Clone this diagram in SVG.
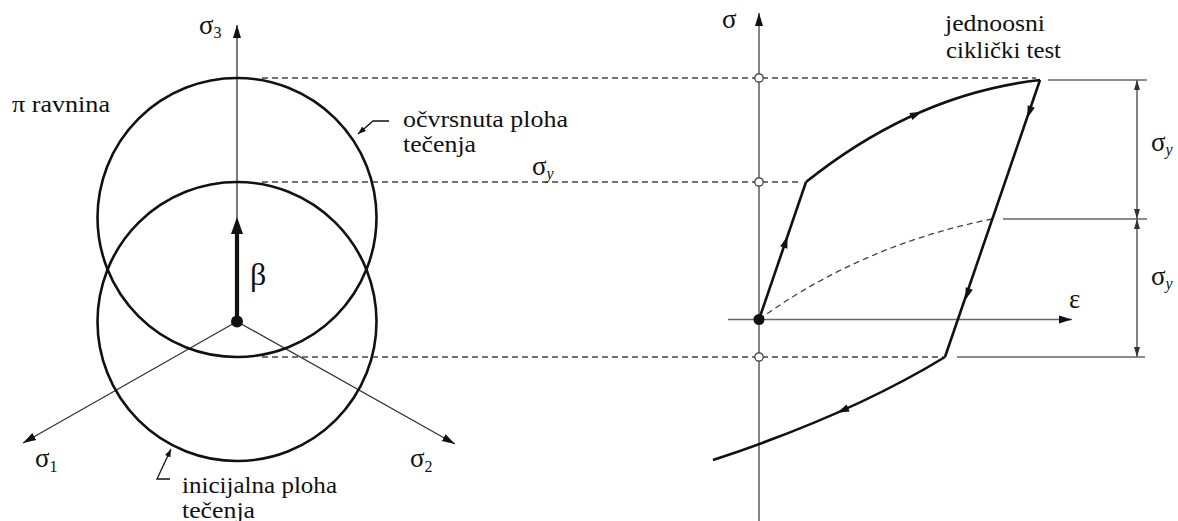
<svg xmlns="http://www.w3.org/2000/svg" xmlns:xlink="http://www.w3.org/1999/xlink" width="1178" height="521" viewBox="0 0 1178 521" font-family="Liberation Serif, Times New Roman, DejaVu Serif, serif">
<style>
.t{font-size:24px;fill:#111}
.g{font-size:27px;fill:#111}
.b{font-size:32px;fill:#111}
.sub{font-size:16px}
.subi{font-size:16px;font-style:italic}
.circ{fill:none;stroke:#111;stroke-width:2.6}
.ax{fill:none;stroke:#333;stroke-width:1.3}
.axr{fill:none;stroke:#666;stroke-width:1.6}
.dash{fill:none;stroke:#444;stroke-width:1.3;stroke-dasharray:6 4}
.curve{fill:none;stroke:#111;stroke-width:2.6}
.dim{fill:none;stroke:#666;stroke-width:1.6}
.open{fill:#fff;stroke:#333;stroke-width:1.2}
</style>
<defs>
<marker id="axArrow" markerUnits="userSpaceOnUse" markerWidth="14" markerHeight="10" refX="13" refY="5" orient="auto-start-reverse">
<path d="M0,1 L13,5 L0,9 Z" fill="#111"/>
</marker>
<marker id="dimArrow" markerUnits="userSpaceOnUse" markerWidth="11" markerHeight="8" refX="10" refY="4" orient="auto-start-reverse">
<path d="M0,1 L10,4 L0,7 Z" fill="#333"/>
</marker>
<marker id="leadArrow" markerUnits="userSpaceOnUse" markerWidth="9" markerHeight="7" refX="8" refY="3.5" orient="auto">
<path d="M0,0.5 L8,3.5 L0,6.5 Z" fill="#111"/>
</marker>
<path id="ah" d="M2,0 L-10,-3.8 L-10,3.8 Z" fill="#111"/>
</defs>

<g id="connectors">
<line class="dash" x1="262" y1="78" x2="1036" y2="78"/>
<line class="dash" x1="262" y1="182" x2="802" y2="182"/>
<line class="dash" x1="262" y1="357" x2="943" y2="357"/>
</g>

<g id="left-diagram">
<g id="pi-plane-axes">
<line class="ax" x1="237" y1="321.5" x2="237" y2="25" marker-end="url(#axArrow)"/>
<line class="ax" x1="237" y1="321.5" x2="23" y2="443" marker-end="url(#axArrow)"/>
<line class="ax" x1="237" y1="321.5" x2="455" y2="444" marker-end="url(#axArrow)"/>
</g>
<g id="hardened-surface">
<circle class="circ" cx="237" cy="217.5" r="139.5"/>
</g>
<g id="initial-surface">
<circle class="circ" cx="237" cy="321.5" r="139.5"/>
</g>
<g id="beta-arrow">
<line x1="237" y1="321.5" x2="237" y2="232" stroke="#111" stroke-width="4.2"/>
<path d="M237,217 L231,234 L243,234 Z" fill="#111"/>
<circle cx="237" cy="321.5" r="6" fill="#111"/>
<text class="b" x="250" y="285">β</text>
</g>
<g id="labels-left">
<text class="g" x="199" y="34">σ<tspan class="sub" dy="4">3</tspan></text>
<text class="g" x="35" y="467">σ<tspan class="sub" dy="5">1</tspan></text>
<text class="g" x="410" y="467">σ<tspan class="sub" dy="5">2</tspan></text>
<text class="t" x="12" y="112" textLength="98" lengthAdjust="spacingAndGlyphs">π ravnina</text>
<text class="g" x="532" y="175">σ<tspan class="subi" dy="4">y</tspan></text>
</g>
<g id="label-hardened">
<polyline fill="none" stroke="#111" stroke-width="1.3" points="389,121 373,121 358,134" marker-end="url(#leadArrow)"/>
<text class="t" x="403" y="127" textLength="165" lengthAdjust="spacingAndGlyphs">očvrsnuta ploha</text>
<text class="t" x="403" y="152" textLength="73" lengthAdjust="spacingAndGlyphs">tečenja</text>
</g>
<g id="label-initial">
<polyline fill="none" stroke="#111" stroke-width="1.3" points="170,479 157,479 171,449" marker-end="url(#leadArrow)"/>
<text class="t" x="182" y="493" textLength="155" lengthAdjust="spacingAndGlyphs">inicijalna ploha</text>
<text class="t" x="182" y="518" textLength="73" lengthAdjust="spacingAndGlyphs">tečenja</text>
</g>
</g>

<g id="right-diagram">
<g id="axes-right">
<line class="axr" x1="759" y1="521" x2="759" y2="13" marker-end="url(#axArrow)"/>
<line class="axr" x1="728" y1="319.5" x2="1072" y2="319.5" marker-end="url(#axArrow)"/>
<text class="g" x="722" y="28">σ</text>
<text class="g" x="1069" y="308">ε</text>
</g>
<g id="initial-curve">
<path class="dash" d="M759,319.5 Q862,245 992,219"/>
</g>
<g id="cycle">
<polyline class="curve" points="759,319.5 806,182"/>
<path class="curve" d="M806,182 Q916,94 1040,80"/>
<polyline class="curve" points="1040,80 945,357"/>
<path class="curve" d="M945,357 Q850,415 713,460"/>
<use xlink:href="#ah" transform="translate(787,238) rotate(-71.1)"/>
<use xlink:href="#ah" transform="translate(920,112.5) rotate(-23.6)"/>
<use xlink:href="#ah" transform="translate(1028,116) rotate(108.9)"/>
<use xlink:href="#ah" transform="translate(966,298) rotate(108.9)"/>
<use xlink:href="#ah" transform="translate(839,412) rotate(156.1)"/>
<circle cx="759" cy="319.5" r="5.5" fill="#111"/>
</g>
<g id="points">
<circle class="open" cx="759" cy="78" r="4.2"/>
<circle class="open" cx="759" cy="182" r="4.2"/>
<circle class="open" cx="759" cy="357" r="4.2"/>
</g>
<g id="title-right">
<text class="t" x="945" y="31" textLength="100" lengthAdjust="spacingAndGlyphs">jednoosni</text>
<text class="t" x="946" y="58" textLength="115" lengthAdjust="spacingAndGlyphs">ciklički test</text>
</g>
<g id="dimensions">
<line class="dim" x1="1048" y1="80" x2="1147" y2="80"/>
<line class="dim" x1="1003" y1="219" x2="1147" y2="219"/>
<line class="dim" x1="957" y1="357" x2="1145" y2="357"/>
<line class="dim" x1="1137" y1="80" x2="1137" y2="219" marker-start="url(#dimArrow)" marker-end="url(#dimArrow)"/>
<line class="dim" x1="1137" y1="219" x2="1137" y2="357" marker-start="url(#dimArrow)" marker-end="url(#dimArrow)"/>
<text class="g" x="1151" y="151">σ<tspan class="subi" dy="4">y</tspan></text>
<text class="g" x="1151" y="285">σ<tspan class="subi" dy="4">y</tspan></text>
</g>
</g>
</svg>
